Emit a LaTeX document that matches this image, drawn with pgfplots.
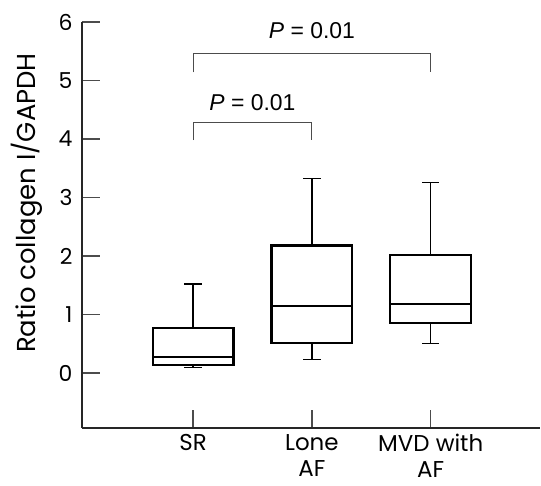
\documentclass[border=0pt]{standalone}
\usepackage{pgfplots}
\pgfplotsset{compat=1.18}
\usepgfplotslibrary{statistics}
\usepackage{fontspec}
\setmainfont{Poppins}
\newfontfamily\pfont{Liberation Sans}

\begin{document}
\begin{tikzpicture}
\begin{axis}[
name=ax,
scale only axis,
width=458bp,
height=406bp,
xmin=0.065, xmax=3.92,
ymin=-0.94, ymax=6,
axis x line=bottom,
axis y line=left,
axis line style={-, line width=1.3pt, black!85},
tick align=inside,
major tick length=18bp,
tick style={line width=1.3pt, black!70},
xtick={1,2,3},
xticklabels={SR,{Lone\\AF},{MVD with\\AF}},
xticklabel style={align=center, font=\fontsize{23}{26}\selectfont, yshift=-3bp},
ytick={0,1,2,3,4,5,6},
yticklabel style={font=\fontsize{22}{24}\selectfont, xshift=-6bp},
ylabel={Ratio collagen I/GAPDH},
ylabel style={font=\fontsize{26}{30}\selectfont, at={(axis description cs:-0.12,0.554)}, anchor=center},
/pgf/number format/assume math mode=true,
boxplot/draw direction=y,
boxplot/every box/.style={line width=2.3pt, black},
boxplot/every median/.style={line width=2.3pt, black},
boxplot/every whisker/.style={line width=1.4pt, black},
]
% SR
\addplot[black, boxplot prepared={lower whisker=0.09, lower quartile=0.14, median=0.27,
  upper quartile=0.77, upper whisker=1.52, draw position=1, box extend=0.68, whisker extend=0.145}]
  coordinates {};
% Lone AF
\addplot[black, boxplot prepared={lower whisker=0.23, lower quartile=0.51, median=1.15,
  upper quartile=2.18, upper whisker=3.32, draw position=2, box extend=0.68, whisker extend=0.145}]
  coordinates {};
% MVD with AF
\addplot[black, boxplot prepared={lower whisker=0.50, lower quartile=0.85, median=1.18,
  upper quartile=2.02, upper whisker=3.26, draw position=3, box extend=0.68, whisker extend=0.145}]
  coordinates {};
% significance brackets
\addplot[line width=1pt, black!70] coordinates {(1,5.14) (1,5.47) (3,5.47) (3,5.14)};
\addplot[line width=1pt, black!70] coordinates {(1,3.98) (1,4.28) (2,4.28) (2,3.98)};
\node[font=\pfont\fontsize{23}{26}\selectfont] at (axis cs:2.0,5.85) {\textit{P} = 0.01};
\node[font=\pfont\fontsize{23}{26}\selectfont] at (axis cs:1.5,4.62) {\textit{P} = 0.01};
\end{axis}
\pgfresetboundingbox
\path[use as bounding box] ([shift={(-82bp,-58bp)}]ax.south west) rectangle ([shift={(1bp,22bp)}]ax.north east);
\end{tikzpicture}
\end{document}
